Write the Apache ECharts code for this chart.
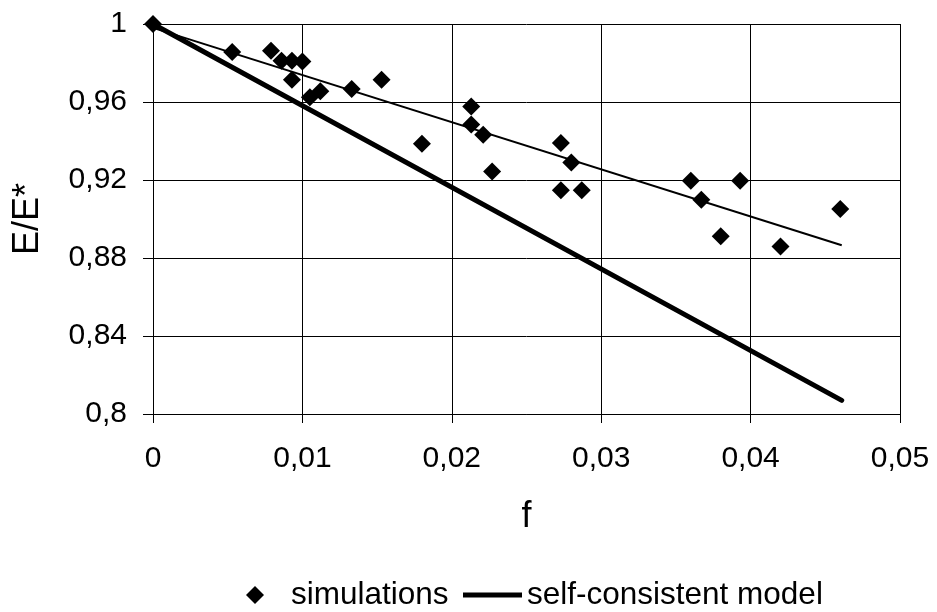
<!DOCTYPE html>
<html>
<head>
<meta charset="utf-8">
<script src="https://cdn.jsdelivr.net/npm/echarts@6/dist/echarts.min.js"></script>
<style>html,body{margin:0;padding:0;background:#fff}#c{width:937px;height:612px}</style>
</head>
<body>
<div id="c"></div>
<script>
// Simulation data (f, E/E*)
const simF = [0, 0.0053, 0.0079, 0.0086, 0.0093, 0.0100, 0.0093, 0.0105, 0.0112, 0.0133, 0.0153, 0.0180, 0.0213, 0.0213, 0.0221, 0.0227, 0.0273, 0.0280, 0.0273, 0.0287, 0.0360, 0.0367, 0.0393, 0.0380, 0.0420, 0.0460];
const simE = [1, 0.9856, 0.9863, 0.9812, 0.9812, 0.9808, 0.9714, 0.9625, 0.9655, 0.9667, 0.9714, 0.9386, 0.9577, 0.9484, 0.9432, 0.9244, 0.9390, 0.9290, 0.9147, 0.9147, 0.9196, 0.9099, 0.9196, 0.8911, 0.8859, 0.9051];
// Linear trend of simulations
const trendF = [0, 0.0461];
const trendE = [0.998, 0.8865];
// Self-consistent model
const modelF = [0, 0.0461];
const modelE = [1, 0.807];
// Axis ticks
const xTicks = [0, 0.01, 0.02, 0.03, 0.04, 0.05];
const yTicks = [0.8, 0.84, 0.88, 0.92, 0.96, 1];

const zip = (a, b) => a.map((v, i) => [v, b[i]]);
const fmt = v => String(Math.round(v * 1000) / 1000).replace('.', ',');
const FONT = 'Liberation Sans, Arial, sans-serif';

const chart = echarts.init(document.getElementById('c'), null, {renderer: 'canvas'});
chart.setOption({
  animation: false,
  backgroundColor: '#fff',
  grid: {left: 153, right: 37, top: 24, bottom: 198, containLabel: false},
  xAxis: {
    type: 'value', min: xTicks[0], max: xTicks[xTicks.length - 1], interval: 0.01,
    name: 'f', nameLocation: 'middle', nameGap: 85,
    nameTextStyle: {fontFamily: FONT, fontSize: 36, color: '#000'},
    axisLine: {show: true, onZero: false, lineStyle: {color: '#000', width: 1}},
    axisTick: {show: true, length: 9, inside: false, lineStyle: {color: '#000'}},
    axisLabel: {formatter: fmt, fontFamily: FONT, fontSize: 30, color: '#000', margin: 30},
    splitLine: {show: true, lineStyle: {color: '#000', width: 1}}
  },
  yAxis: {
    type: 'value', min: yTicks[0], max: yTicks[yTicks.length - 1], interval: 0.04,
    name: 'E/E*', nameLocation: 'middle', nameGap: 107, nameRotate: 90,
    nameTextStyle: {fontFamily: FONT, fontSize: 36, color: '#000'},
    axisLine: {show: true, onZero: false, lineStyle: {color: '#000', width: 1}},
    axisTick: {show: true, length: 10, inside: false, lineStyle: {color: '#000'}},
    axisLabel: {formatter: fmt, fontFamily: FONT, fontSize: 30, color: '#000', margin: 26},
    splitLine: {show: true, lineStyle: {color: '#000', width: 1}}
  },
  legend: [
    {
      data: [{name: 'simulations', icon: 'diamond', itemStyle: {color: '#000', opacity: 1}}],
      left: 246, top: 579, itemWidth: 18, itemHeight: 18, padding: 0,
      textStyle: {fontFamily: FONT, fontSize: 31.5, color: '#000', padding: [0, 0, 0, 22]}
    },
    {
      data: [{name: 'self-consistent model', icon: 'rect', itemStyle: {color: '#000'}}],
      left: 463, top: 579, itemWidth: 59, itemHeight: 5, padding: 0,
      textStyle: {fontFamily: FONT, fontSize: 31.5, color: '#000', padding: [0, 0, 0, 0]}
    }
  ],
  series: [
    {
      name: 'self-consistent model', type: 'line', data: zip(modelF, modelE),
      symbol: 'none', lineStyle: {color: '#000', width: 5, cap: 'round'}, itemStyle: {color: '#000'}, z: 2
    },
    {
      name: 'trend', type: 'line', data: zip(trendF, trendE),
      symbol: 'none', lineStyle: {color: '#000', width: 2}, itemStyle: {color: '#000'}, z: 3
    },
    {
      name: 'simulations', type: 'scatter', data: zip(simF, simE),
      symbol: 'diamond', symbolSize: 18, itemStyle: {color: '#000', opacity: 1}, z: 4
    }
  ]
});
</script>
</body>
</html>
